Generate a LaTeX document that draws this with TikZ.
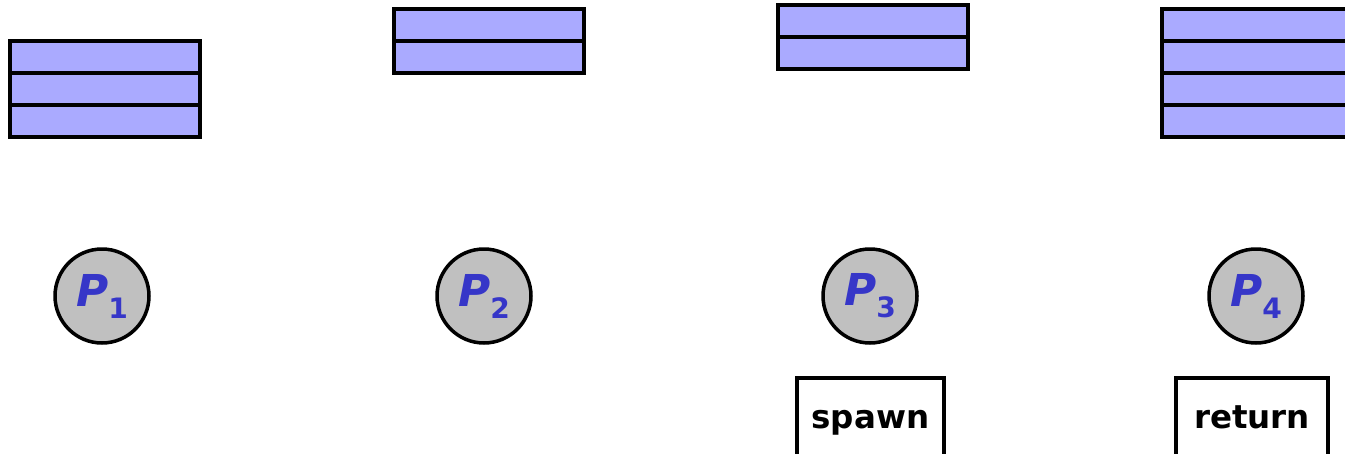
\documentclass[tikz,border=0pt]{standalone}
\usepackage{fontspec}
\setmainfont{DejaVu Sans}
\usetikzlibrary{positioning}
\definecolor{cellblue}{HTML}{AAAAFF}
\definecolor{procgray}{HTML}{C0C0C0}
\definecolor{labelblue}{HTML}{3636C8}
\newcommand{\plabel}[1]{{\itshape P}\raisebox{-0.5ex}{\fontsize{16}{16}\selectfont #1}}

\begin{document}
\begin{tikzpicture}
[x=0.02cm,y=-0.02cm,
 cell/.style={draw,fill=cellblue,line width=2.6pt,minimum width=3.8cm,minimum height=0.64cm,inner sep=0pt,outer sep=0pt},
 proc/.style={circle,draw,fill=procgray,line width=2pt,minimum size=1.88cm,inner sep=0pt,text=labelblue,font=\fontsize{25}{25}\selectfont\bfseries},
 op/.style={draw,line width=2.6pt,minimum height=1.6cm,inner sep=0pt,text height=0.75em,text depth=0.2em,font=\fontsize{18.5}{18.5}\selectfont\bfseries}]
\useasboundingbox (0,0) rectangle (1345,453);
% stacks
\foreach \y [count=\i] in {57,89,121}
  \node[cell] (s1-\i) at (105,\y) {};
\foreach \y [count=\i] in {25,57}
  \node[cell] (s2-\i) at (489,\y) {};
\foreach \y [count=\i] in {21,53}
  \node[cell] (s3-\i) at (873,\y) {};
\foreach \y [count=\i] in {25,57,89,121}
  \node[cell] (s4-\i) at (1257,\y) {};
% processors
\node[proc] (p1) at (102,296) {\plabel{1}};
\node[proc] (p2) at (484,296) {\plabel{2}};
\node[proc] (p3) at (870,296) {\plabel{3}};
\node[proc] (p4) at (1256,296) {\plabel{4}};
% operations
\node[op,minimum width=2.94cm] (spawn) at (870.5,418) {\raisebox{-0.3ex}{spawn}};
\node[op,minimum width=3.04cm] (ret) at (1252,418) {\raisebox{-0.3ex}{return}};
\end{tikzpicture}
\end{document}
